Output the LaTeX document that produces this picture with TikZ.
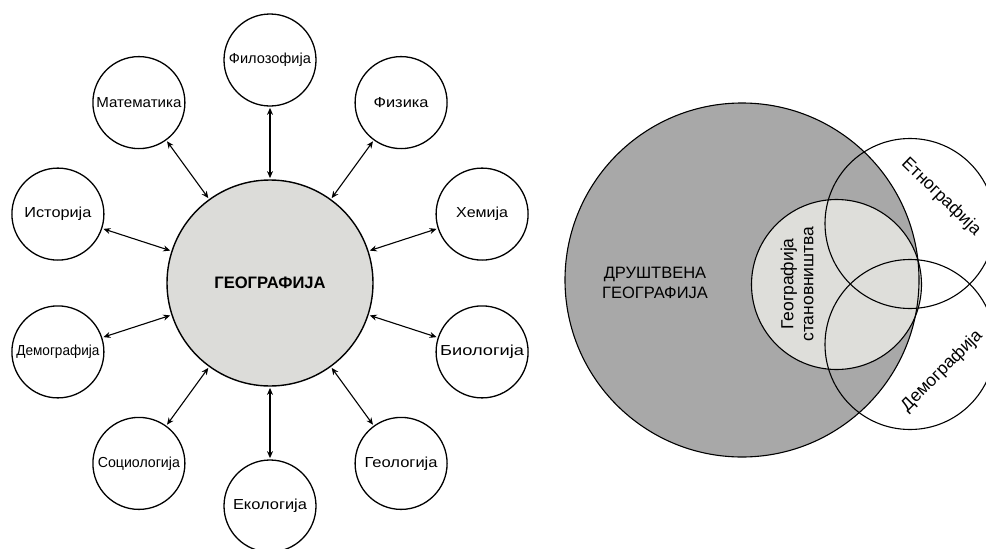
\documentclass[tikz,border=0pt]{standalone}
\usepackage{fontspec}
\usepackage{graphicx}
\setmainfont{Liberation Sans}
\usetikzlibrary{arrows.meta}
\definecolor{hubgray}{RGB}{220,220,217}
\definecolor{biggray}{RGB}{168,168,168}
\definecolor{lightgray2}{RGB}{222,222,218}
\newcommand{\wlab}[2]{\resizebox{#1pt}{\height}{#2}}
\begin{document}
\begin{tikzpicture}[x=1pt,y=-1pt,
  sat/.style={circle,draw,line width=1.3pt,minimum size=92pt,inner sep=0pt,font=\fontsize{14.5}{16}\selectfont},
  hub/.style={circle,draw,line width=1.4pt,fill=hubgray,minimum size=206pt,inner sep=0pt,font=\bfseries\fontsize{16.6}{18}\selectfont},
  link/.style={{Stealth[length=7pt,width=6pt]}-{Stealth[length=7pt,width=6pt]},line width=1.1pt,shorten >=1.2pt,shorten <=1.2pt},
  venn/.style={line width=1.1pt,draw=black},
  lbl/.style={inner sep=0pt,font=\fontsize{17.5}{20}\selectfont,align=center}]
\useasboundingbox (0,0) rectangle (986,549);
% left diagram
\node[hub] (geo) at (270,283) {ГЕОГРАФИЈА};
\node[sat] (fil) at (270,60) {\wlab{82}{Филозофија}};
\node[sat] (mat) at (138.9,102.6) {\wlab{85}{Математика}};
\node[sat] (ist) at (57.9,214.1) {\wlab{67}{Историја}};
\node[sat] (dem) at (57.9,351.9) {\wlab{83}{Демографија}};
\node[sat] (soc) at (138.9,463.4) {\wlab{82}{Социологија}};
\node[sat] (eko) at (270,506) {\wlab{74}{Екологија}};
\node[sat] (gel) at (401.1,463.4) {\wlab{73}{Геологија}};
\node[sat] (bio) at (482.1,351.9) {\wlab{84}{Биологија}};
\node[sat] (hem) at (482.1,214.1) {\wlab{52}{Хемија}};
\node[sat] (fiz) at (401.1,102.6) {\wlab{55}{Физика}};
\foreach \s in {fil,mat,ist,dem,soc,eko,gel,bio,hem,fiz}
  \draw[link] (geo) -- (\s);
% right diagram
\fill[biggray] (742,280) circle[radius=177];
\fill[lightgray2] (836.5,284.5) circle[radius=85];
\draw[venn] (742,280) circle[radius=177];
\draw[venn] (836.5,284.5) circle[radius=85];
\draw[venn] (910,223.5) circle[radius=85];
\draw[venn] (910,344.5) circle[radius=85];
\node[lbl,font=\fontsize{16.5}{20.5}\selectfont] (dru) at (655,283) {ДРУШТВЕНА\\ГЕОГРАФИЈА};
\node[lbl,rotate=90] (gst) at (797,284) {Географија\\становништва};
\node[lbl,rotate=-44] (etn) at (941,197) {Етнографија};
\node[lbl,rotate=45] (dmg) at (942,371) {Демографија};
\end{tikzpicture}
\end{document}
